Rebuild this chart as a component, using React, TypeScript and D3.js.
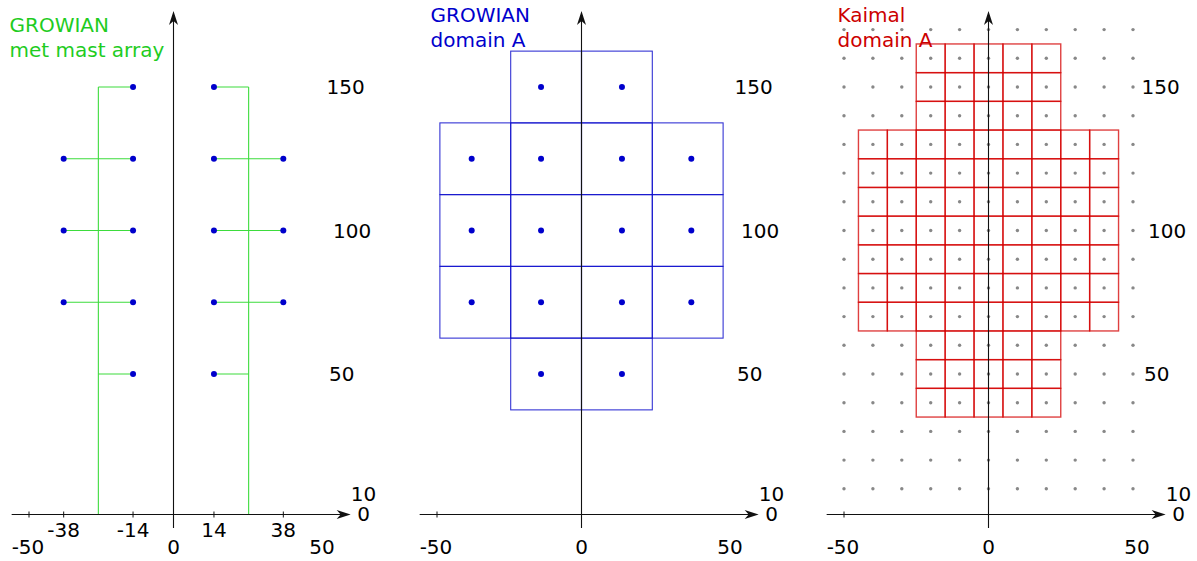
import React, { useEffect, useRef } from "react";
import * as d3 from "d3";

// panel titles (two lines each) and their colours
const panelTitles = [
    ["GROWIAN", "met mast array"],
    ["GROWIAN", "domain A"],
    ["Kaimal", "domain A"],
];
const titleColors = ["#1fcc1f", "#0000cc", "#cc0000"];

// axis labels
const rangeLabels = [-50, 0, 50];
const heightLabels = [150, 100, 50];
const boomLabels = [-38, -14, 14, 38];

// GROWIAN met masts: sensor positions (lateral m, height m)
const mastX = [-26, 26];
const mastTop = 150;
const sensors = [
    { x: -14, h: 150 }, { x: 14, h: 150 },
    { x: -38, h: 125 }, { x: -14, h: 125 }, { x: 14, h: 125 }, { x: 38, h: 125 },
    { x: -38, h: 100 }, { x: -14, h: 100 }, { x: 14, h: 100 }, { x: 38, h: 100 },
    { x: -38, h: 75 }, { x: -14, h: 75 }, { x: 14, h: 75 }, { x: 38, h: 75 },
    { x: -14, h: 50 }, { x: 14, h: 50 },
];

// GROWIAN domain A cells: column edges and rows (centre height, extent)
const domainAEdges = [-49, -24.5, 0, 24.5, 49];
const domainACellH = 25;
const domainARows = [
    { h: 150, half: 24.5 },
    { h: 125, half: 49 },
    { h: 100, half: 49 },
    { h: 75, half: 49 },
    { h: 50, half: 24.5 },
];

// Kaimal grid points and domain A rows
const kaimalX = [-50, -40, -30, -20, -10, 0, 10, 20, 30, 40, 50];
const kaimalH = [10, 20, 30, 40, 50, 60, 70, 80, 90, 100, 110, 120, 130, 140, 150, 160, 170];
const kaimalCell = 10;
const kaimalRows = [
    { h: 160, half: 20 }, { h: 150, half: 20 }, { h: 140, half: 20 },
    { h: 130, half: 40 }, { h: 120, half: 40 }, { h: 110, half: 40 }, { h: 100, half: 40 },
    { h: 90, half: 40 }, { h: 80, half: 40 }, { h: 70, half: 40 },
    { h: 60, half: 20 }, { h: 50, half: 20 }, { h: 40, half: 20 },
];

const App: React.FC = () => {
    const svgRef = useRef<SVGSVGElement | null>(null);

    useEffect(() => {
        if (!svgRef.current) return;
        const svg = d3.select(svgRef.current);
        svg.selectAll("*").remove();

        const width = 1197;
        const height = 561;
        const origins = [173.5, 581.5, 988.5];
        const axisY = 514.5;
        const font = "'DejaVu Sans', Verdana, sans-serif";

        svg.attr("width", width).attr("height", height);

        const y = d3.scaleLinear().domain([0, 150]).range([517.5, 87]);

        origins.forEach((ox, i) => {
            const x = d3.scaleLinear().domain([-50, 50]).range([ox - 144.5, ox + 144.5]);
            const g = svg.append("g");

            // panel content first, axes on top
            if (i === 0) {
                const green = "#3ddc3d";
                mastX.forEach((mx) => {
                    g.append("line")
                        .attr("x1", x(mx)).attr("x2", x(mx))
                        .attr("y1", axisY).attr("y2", y(mastTop))
                        .attr("stroke", green).attr("stroke-width", 1.1);
                    const side = sensors.filter((s) => Math.sign(s.x) === Math.sign(mx));
                    const levels = Array.from(new Set(side.map((s) => s.h)));
                    levels.forEach((h) => {
                        const xs = side.filter((s) => s.h === h).map((s) => s.x).concat([mx]);
                        g.append("line")
                            .attr("x1", x(d3.min(xs)!)).attr("x2", x(d3.max(xs)!))
                            .attr("y1", y(h)).attr("y2", y(h))
                            .attr("stroke", green).attr("stroke-width", 1.1);
                    });
                });
                g.selectAll("circle.sensor")
                    .data(sensors)
                    .join("circle")
                    .attr("class", "sensor")
                    .attr("cx", (d) => x(d.x))
                    .attr("cy", (d) => y(d.h))
                    .attr("r", 3)
                    .attr("fill", "#0000cc");
            }

            if (i === 1) {
                domainARows.forEach((row) => {
                    for (let k = 0; k < domainAEdges.length - 1; k++) {
                        const x0 = domainAEdges[k];
                        const x1 = domainAEdges[k + 1];
                        if (x0 < -row.half || x1 > row.half) continue;
                        g.append("rect")
                            .attr("x", x(x0))
                            .attr("y", y(row.h + domainACellH / 2))
                            .attr("width", x(x1) - x(x0))
                            .attr("height", y(row.h - domainACellH / 2) - y(row.h + domainACellH / 2))
                            .attr("fill", "none")
                            .attr("stroke", "#1010cc")
                            .attr("stroke-opacity", 0.85)
                            .attr("stroke-width", 1.1);
                    }
                });
                g.selectAll("circle.sensor")
                    .data(sensors)
                    .join("circle")
                    .attr("class", "sensor")
                    .attr("cx", (d) => x(d.x))
                    .attr("cy", (d) => y(d.h))
                    .attr("r", 3)
                    .attr("fill", "#0000cc");
            }

            if (i === 2) {
                const pts = kaimalH.flatMap((h) => kaimalX.map((kx) => ({ x: kx, h })));
                g.selectAll("circle.grid")
                    .data(pts)
                    .join("circle")
                    .attr("class", "grid")
                    .attr("cx", (d) => x(d.x))
                    .attr("cy", (d) => y(d.h))
                    .attr("r", 1.7)
                    .attr("fill", "#888888");
                kaimalRows.forEach((row) => {
                    kaimalX
                        .filter((kx) => Math.abs(kx) <= row.half)
                        .forEach((kx) => {
                            g.append("rect")
                                .attr("x", x(kx - kaimalCell / 2))
                                .attr("y", y(row.h + kaimalCell / 2))
                                .attr("width", x(kx + kaimalCell / 2) - x(kx - kaimalCell / 2))
                                .attr("height", y(row.h - kaimalCell / 2) - y(row.h + kaimalCell / 2))
                                .attr("fill", "none")
                                .attr("stroke", "#d40000")
                                .attr("stroke-opacity", 0.75)
                                .attr("stroke-width", 1.4);
                        });
                });
            }

            // axes
            g.append("line")
                .attr("x1", x(-56)).attr("x2", x(58))
                .attr("y1", axisY).attr("y2", axisY)
                .attr("stroke", "#111").attr("stroke-width", 1.1);
            const tipX = x(61.3);
            g.append("path")
                .attr("d", `M${tipX},${axisY} L${tipX - 14},${axisY - 4.5} L${tipX - 10},${axisY} L${tipX - 14},${axisY + 4.5} Z`)
                .attr("fill", "#111");
            g.append("line")
                .attr("x1", x(0)).attr("x2", x(0))
                .attr("y1", 528).attr("y2", 20)
                .attr("stroke", "#111").attr("stroke-width", 1.1);
            const tipY = 11;
            g.append("path")
                .attr("d", `M${x(0)},${tipY} L${x(0) - 4.5},${tipY + 14} L${x(0)},${tipY + 10} L${x(0) + 4.5},${tipY + 14} Z`)
                .attr("fill", "#111");

            const ticks = i === 0 ? [-50, ...boomLabels] : [-50];
            ticks.forEach((t) => {
                g.append("line")
                    .attr("x1", x(t)).attr("x2", x(t))
                    .attr("y1", axisY - 3).attr("y2", axisY + 3)
                    .attr("stroke", "#111").attr("stroke-width", 1);
            });

            // labels
            const label = (tx: number, ty: number, s: string, anchor = "middle", fill = "#000") =>
                g.append("text")
                    .attr("x", tx).attr("y", ty)
                    .attr("text-anchor", anchor)
                    .attr("fill", fill)
                    .style("font-family", font)
                    .attr("font-size", "20px")
                    .text(s);

            const rangeNudge: Record<number, number> = { [-50]: -1, 0: 0, 50: 4 };
            rangeLabels.forEach((v) => label(x(v) + rangeNudge[v], 554, String(v)));
            if (i === 0) boomLabels.forEach((v) => label(x(v), 537, String(v)));

            const heightNudge: Record<number, number> = { 150: 153, 100: 159.5, 50: 155.5 };
            heightLabels.forEach((h) => label(ox + heightNudge[h], y(h) + 7, String(h), "start"));

            label(ox + 190, 501, "10");
            label(ox + 190, 521, "0");

            const tx = i === 0 ? 9.5 : ox - 151;
            const ty = i === 0 ? 32 : 22;
            panelTitles[i].forEach((line, k) => label(tx, ty + k * 25, line, "start", titleColors[i]));
        });
    }, []);

    return (
        <svg
            ref={svgRef}
            style={{ position: "absolute", left: 0, top: 0, background: "#fff" }}
        ></svg>
    );
};

export default App;
